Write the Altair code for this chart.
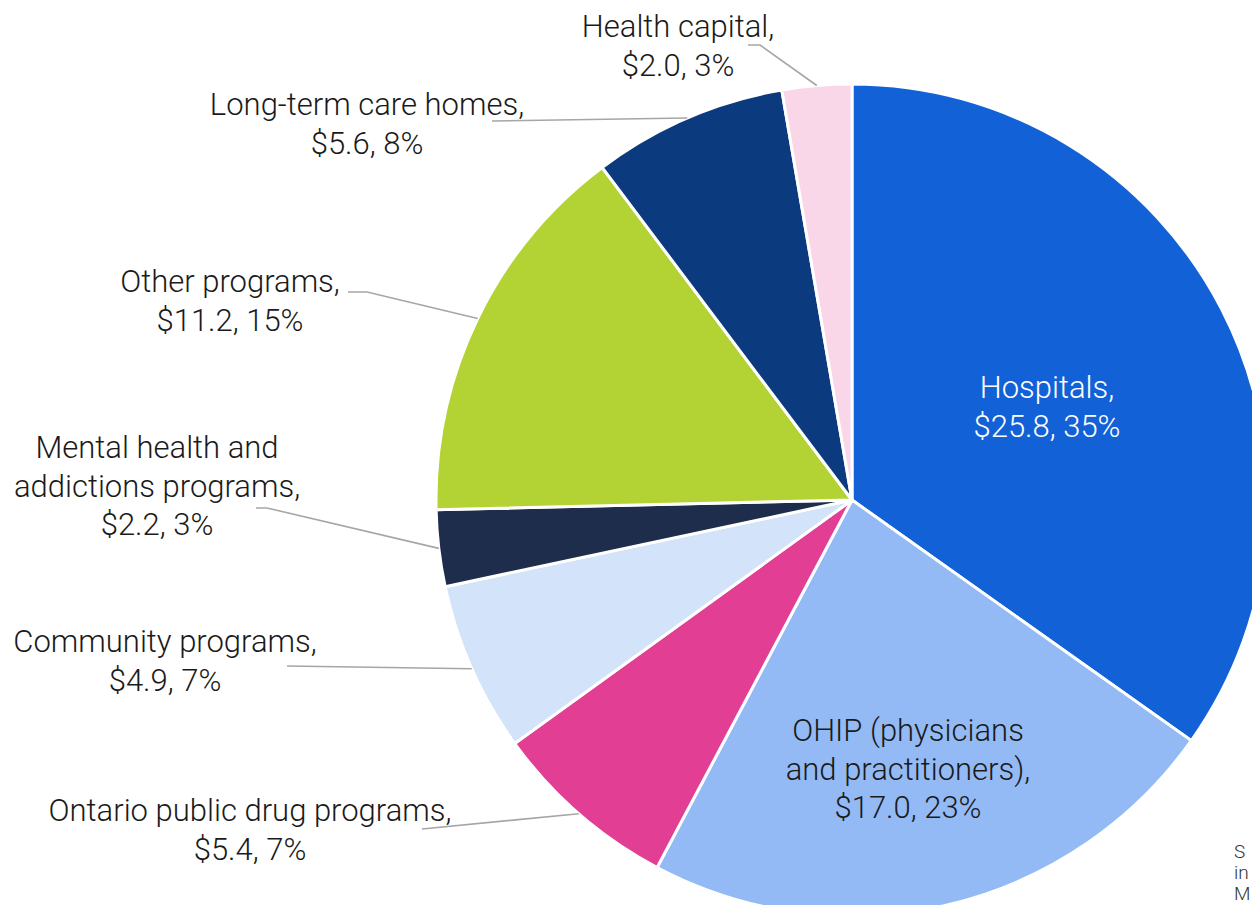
import math
import altair as alt
import pandas as pd

# ---------------- data ----------------
categories = [
    "Hospitals",
    "OHIP (physicians and practitioners)",
    "Ontario public drug programs",
    "Community programs",
    "Mental health and addictions programs",
    "Other programs",
    "Long-term care homes",
    "Health capital",
]
values = [25.8, 17.0, 5.4, 4.9, 2.2, 11.2, 5.6, 2.0]
label_lines = [
    ["Hospitals,"],
    ["OHIP (physicians", "and practitioners),"],
    ["Ontario public drug programs,"],
    ["Community programs,"],
    ["Mental health and", "addictions programs,"],
    ["Other programs,"],
    ["Long-term care homes,"],
    ["Health capital,"],
]
colors = ["#1261D7", "#93BAF5", "#E23E94", "#D3E3FA", "#1D2D4B", "#B3D335", "#0C3A7E", "#F9D6E8"]
footer_lines = ["S", "in", "M"]

# ---------------- layout (page pixels) ----------------
M = 8
CX, CY, R = 852, 500, 416
FS = 31
LH = 38.5
# label centre x, first baseline y, text colour
label_pos = {
    "Hospitals": (1047, 398, "white"),
    "OHIP (physicians and practitioners)": (908, 741, "#1a1a1a"),
    "Ontario public drug programs": (250, 821, "#1a1a1a"),
    "Community programs": (165, 652, "#1a1a1a"),
    "Mental health and addictions programs": (157, 458, "#1a1a1a"),
    "Other programs": (230, 292, "#1a1a1a"),
    "Long-term care homes": (367, 115, "#1a1a1a"),
    "Health capital": (678, 37, "#1a1a1a"),
}
# leader line start points (near label) before reaching the slice
leader_start = {
    "Ontario public drug programs": [(422, 829)],
    "Community programs": [(287, 666)],
    "Mental health and addictions programs": [(256, 508), (267, 508)],
    "Other programs": [(348, 292), (367, 292)],
    "Long-term care homes": [(492, 121)],
    "Health capital": [(748, 45), (760, 45)],
}

total = sum(values)
pie_df = pd.DataFrame({"cat": categories, "value": values, "idx": list(range(len(values)))})

text_rows = []
line_rows = []
cum = 0.0
for i, (cat, v) in enumerate(zip(categories, values)):
    pct = round(v / total * 100)
    lines = label_lines[i] + [f"${v:.1f}, {pct}%"]
    x0, y0, tc = label_pos[cat]
    for j, t in enumerate(lines):
        text_rows.append({"t": t, "px": x0 - M, "py": y0 + j * LH - M, "tc": tc})
    mid = (cum + v / 2) / total * 2 * math.pi
    cum += v
    if cat in leader_start:
        pts = leader_start[cat] + [(CX + R * math.sin(mid), CY - R * math.cos(mid))]
        for k, (px, py) in enumerate(pts):
            line_rows.append({"cat": cat, "k": k, "px": px - M, "py": py - M})

text_df = pd.DataFrame(text_rows)
line_df = pd.DataFrame(line_rows)
foot_df = pd.DataFrame({"t": footer_lines, "px": [1234 - M] * 3, "py": [858 - M, 879 - M, 900 - M]})

pie = alt.Chart(pie_df).mark_arc(outerRadius=R, stroke="white", strokeWidth=3).encode(
    theta=alt.Theta("value:Q", stack=True),
    color=alt.Color("cat:N", scale=alt.Scale(domain=categories, range=colors), legend=None),
    order=alt.Order("idx:Q"),
    x=alt.value(CX - M),
    y=alt.value(CY - M),
)

leaders = alt.Chart(line_df).mark_line(color="#A6A6A6", strokeWidth=1.6).encode(
    x=alt.X("px:Q", scale=None),
    y=alt.Y("py:Q", scale=None),
    detail="cat:N",
    order="k:Q",
)

labels = alt.Chart(text_df).mark_text(
    align="center", baseline="alphabetic", fontSize=FS, font="Roboto", fontWeight=300
).encode(
    x=alt.X("px:Q", scale=None),
    y=alt.Y("py:Q", scale=None),
    text="t:N",
    color=alt.Color("tc:N", scale=None),
)

footer = alt.Chart(foot_df).mark_text(
    align="left", baseline="alphabetic", fontSize=19, font="Roboto", fontWeight=300, color="#333333"
).encode(
    x=alt.X("px:Q", scale=None),
    y=alt.Y("py:Q", scale=None),
    text="t:N",
)

chart = alt.layer(pie, leaders, labels, footer).properties(
    width=1244, height=897, autosize=alt.AutoSizeParams(type="none"), padding=0
).configure_view(stroke=None)

chart.save("out.html", embed_options={"renderer": "svg", "actions": False})
